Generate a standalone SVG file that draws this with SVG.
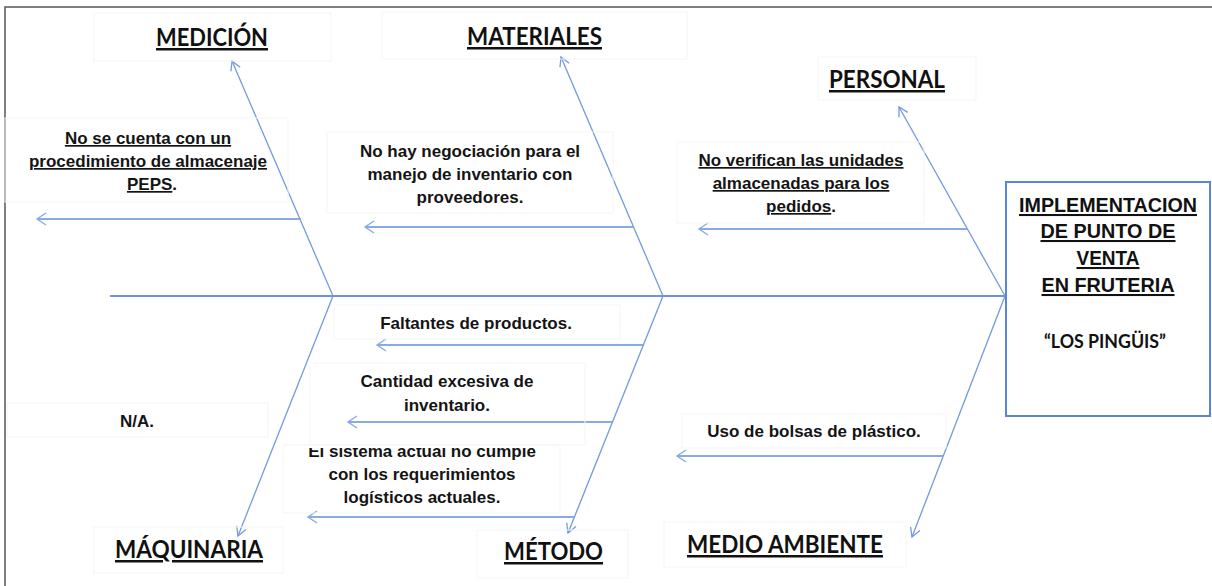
<svg xmlns="http://www.w3.org/2000/svg" width="1212" height="586" viewBox="0 0 1212 586">
<style>
.frame{stroke:#555;stroke-width:1.5;fill:none}
.bone{stroke:#7499e0;stroke-width:1.3;fill:none}
.sub{stroke:#8aaae6;stroke-width:2;fill:none}
.spine{stroke:#6d92da;stroke-width:2.2;fill:none}
.tb{fill:none;stroke:#f5f5f5;stroke-width:1}
.h{font-family:Lato,"Open Sans","Liberation Sans",sans-serif;font-weight:bold;font-size:25px;fill:#111;text-decoration:underline}
.t{font-family:"Liberation Sans",Arial,sans-serif;font-weight:bold;font-size:17px;fill:#141414;text-anchor:middle}
.u{text-decoration:underline}
.e{font-family:"Liberation Sans",Arial,sans-serif;font-weight:bold;font-size:20.5px;fill:#111;text-anchor:middle;text-decoration:underline}
</style>
<defs>
<marker id="ah" markerUnits="userSpaceOnUse" viewBox="-12 -8 14 16" refX="0" refY="0" markerWidth="14" markerHeight="16" orient="auto">
<path d="M-9,-5 L0,0 L-9,5" fill="none" stroke="#7499e0" stroke-width="1.3"/>
</marker>
<marker id="ah2" markerUnits="userSpaceOnUse" viewBox="-12 -8 14 16" refX="0" refY="0" markerWidth="14" markerHeight="16" orient="auto">
<path d="M-9,-6 L0,0 L-9,6" fill="none" stroke="#8aaae6" stroke-width="1.4"/>
</marker>
<clipPath id="clipSis"><rect x="280" y="448" width="290" height="70"/></clipPath>
</defs>
<rect width="1212" height="586" fill="#fff"/>
<path class="frame" d="M5,586 L5,7 L1212,7"/>

<g id="connectors">
<path class="spine" d="M110,296 L1005,296"/>
<path class="bone" d="M333,296 L232,61" marker-end="url(#ah)"/>
<path class="bone" d="M663,296 L561,57" marker-end="url(#ah)"/>
<path class="bone" d="M1005,296 L899,107" marker-end="url(#ah)"/>
<path class="bone" d="M333,296 L238,536" marker-end="url(#ah)"/>
<path class="bone" d="M663,296 L568,533" marker-end="url(#ah)"/>
<path class="bone" d="M1005,296 L912,537" marker-end="url(#ah)"/>
<path class="sub" d="M301,219 L37,219" marker-end="url(#ah2)"/>
<path class="sub" d="M633,227 L365,227" marker-end="url(#ah2)"/>
<path class="sub" d="M967,229 L699,229" marker-end="url(#ah2)"/>
<path class="sub" d="M643,345 L377,345" marker-end="url(#ah2)"/>
<path class="sub" d="M612,422 L348,422" marker-end="url(#ah2)"/>
<path class="sub" d="M574,517 L308,517" marker-end="url(#ah2)"/>
<path class="sub" d="M943,456 L677,456" marker-end="url(#ah2)"/>
</g>

<g id="medicion">
<rect class="tb" x="94" y="13" width="237" height="48"/>
<text class="h" x="156" y="46" textLength="112" lengthAdjust="spacingAndGlyphs">MEDICIÓN</text>
</g>
<g id="materiales">
<rect class="tb" x="382" y="12" width="305" height="47"/>
<text class="h" x="467" y="45" textLength="135" lengthAdjust="spacingAndGlyphs">MATERIALES</text>
</g>
<g id="personal">
<rect class="tb" x="818" y="57" width="158" height="43"/>
<text class="h" x="829" y="88" textLength="116" lengthAdjust="spacingAndGlyphs">PERSONAL</text>
</g>
<g id="maquinaria">
<rect class="tb" x="94" y="527" width="189" height="46"/>
<text class="h" x="115" y="558" textLength="148" lengthAdjust="spacingAndGlyphs">MÁQUINARIA</text>
</g>
<g id="metodo">
<rect class="tb" x="477" y="530" width="151" height="48"/>
<text class="h" x="504" y="560" textLength="99" lengthAdjust="spacingAndGlyphs">MÉTODO</text>
</g>
<g id="medio-ambiente">
<rect class="tb" x="664" y="522" width="242" height="45"/>
<text class="h" x="687" y="553" textLength="196" lengthAdjust="spacingAndGlyphs">MEDIO AMBIENTE</text>
</g>

<g id="cause-peps">
<rect class="tb" x="5" y="118" width="283" height="84"/>
<text class="t" x="148" y="144"><tspan class="u">No se cuenta con un</tspan></text>
<text class="t" x="148" y="167"><tspan class="u">procedimiento de almacenaje</tspan></text>
<text class="t" x="152" y="190"><tspan class="u">PEPS</tspan>.</text>
</g>
<g id="cause-negociacion">
<rect class="tb" x="327" y="132" width="286" height="81"/>
<text class="t" x="470" y="157">No hay negociación para el</text>
<text class="t" x="470" y="180">manejo de inventario con</text>
<text class="t" x="470" y="203">proveedores.</text>
</g>
<g id="cause-verifican">
<rect class="tb" x="677" y="142" width="247" height="81"/>
<text class="t" x="801" y="166"><tspan class="u">No verifican las unidades</tspan></text>
<text class="t" x="801" y="189"><tspan class="u">almacenadas para los</tspan></text>
<text class="t" x="801" y="212"><tspan class="u">pedidos</tspan>.</text>
</g>
<g id="cause-faltantes">
<rect class="tb" x="334" y="305" width="286" height="34"/>
<text class="t" x="476" y="329">Faltantes de productos.</text>
</g>
<g id="cause-cantidad">
<rect class="tb" x="310" y="363" width="275" height="82"/>
<text class="t" x="447" y="387">Cantidad excesiva de</text>
<text class="t" x="447" y="411">inventario.</text>
</g>
<g id="cause-sistema">
<rect class="tb" x="283" y="445" width="277" height="68"/>
<text class="t" x="422" y="457" clip-path="url(#clipSis)">El sistema actual no cumple</text>
<text class="t" x="422" y="480">con los requerimientos</text>
<text class="t" x="422" y="503">logísticos actuales.</text>
</g>
<g id="cause-na">
<rect class="tb" x="7" y="403" width="261" height="34"/>
<text class="t" x="137" y="427">N/A.</text>
</g>
<g id="cause-bolsas">
<rect class="tb" x="682" y="414" width="264" height="34"/>
<text class="t" x="814" y="437">Uso de bolsas de plástico.</text>
</g>

<g id="effect">
<rect x="1006" y="182" width="204" height="234" fill="#fff" stroke="#5b85d6" stroke-width="2"/>
<text class="e" x="1108" y="212" textLength="178" lengthAdjust="spacingAndGlyphs">IMPLEMENTACION</text>
<text class="e" x="1108" y="238" textLength="135" lengthAdjust="spacingAndGlyphs">DE PUNTO DE</text>
<text class="e" x="1108" y="265" textLength="63" lengthAdjust="spacingAndGlyphs">VENTA</text>
<text class="e" x="1108" y="292" textLength="133" lengthAdjust="spacingAndGlyphs">EN FRUTERIA</text>
<text x="1105" y="348" textLength="122" lengthAdjust="spacingAndGlyphs" style="font-family:Lato,'Open Sans',sans-serif;font-weight:bold;font-size:19px;fill:#111;text-anchor:middle">“LOS PINGÜIS”</text>
</g>
</svg>
